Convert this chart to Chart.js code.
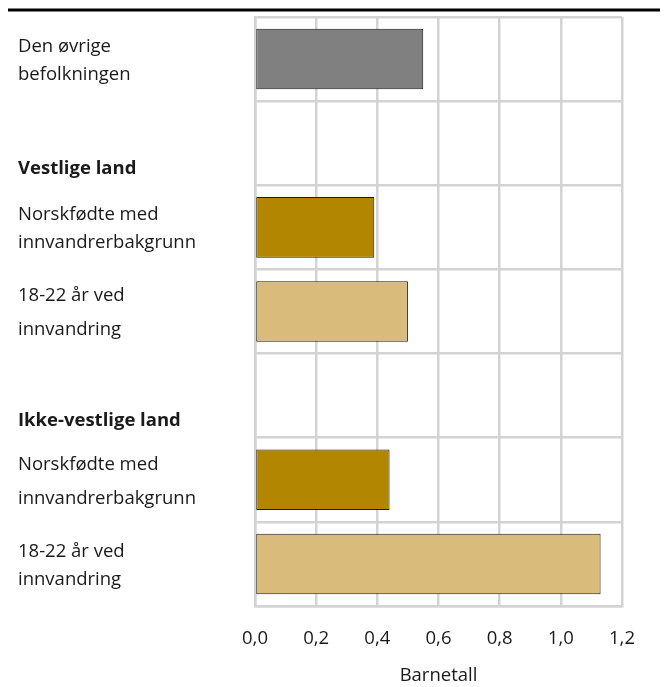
<!DOCTYPE html>
<html>
<head>
<meta charset="utf-8">
<script src="https://cdn.jsdelivr.net/npm/chart.js@4/dist/chart.umd.min.js"></script>
<style>
  html, body { margin: 0; padding: 0; background: #fff; }
  #wrap { width: 668px; height: 687px; }
</style>
</head>
<body>
<div id="wrap"><canvas id="barChart"></canvas></div>
<script>
// Row labels (multi-line), empty strings push the group headers down
const categories = [
  ["Den øvrige", "befolkningen"],
  ["", "", "Vestlige land"],
  ["Norskfødte med", "innvandrerbakgrunn"],
  ["18-22 år ved", "innvandring"],
  ["", "", "Ikke-vestlige land"],
  ["Norskfødte med", "innvandrerbakgrunn"],
  ["18-22 år ved", "innvandring"],
];
const headerRows = [1, 4];
const values = [0.55, null, 0.39, 0.5, null, 0.44, 1.13];
const barColors = ["#808080", null, "#b38600", "#d9bc7c", null, "#b38600", "#d9bc7c"];
const xTicks = [0, 0.2, 0.4, 0.6, 0.8, 1.0, 1.2];
const axisTitle = "Barnetall";

const FONT = "'Open Sans', 'Noto Sans', sans-serif";
const SIZE = 18.5;
// the source is not consistent in line spacing between rows
const wideRows = [3, 5];

// black rule at the top of the figure
const topRule = {
  id: "topRule",
  afterDraw(chart) {
    const ctx = chart.ctx;
    ctx.save();
    ctx.strokeStyle = "#000";
    ctx.lineWidth = 3;
    ctx.beginPath();
    ctx.moveTo(8, 10);
    ctx.lineTo(660, 10);
    ctx.stroke();
    ctx.restore();
  },
};

const ctx = document.getElementById("barChart").getContext("2d");
new Chart(ctx, {
  type: "bar",
  data: {
    labels: categories,
    datasets: [
      {
        data: values,
        backgroundColor: barColors,
        borderColor: "#1a1a1a",
        borderWidth: 1,
        borderSkipped: false,
        barPercentage: 0.72,
        categoryPercentage: 1.0,
      },
    ],
  },
  options: {
    indexAxis: "y",
    responsive: true,
    maintainAspectRatio: false,
    animation: false,
    layout: { padding: { left: 18, right: 46, top: 17, bottom: 0 } },
    plugins: {
      legend: { display: false },
      tooltip: { enabled: false },
    },
    scales: {
      y: {
        grid: { color: "#d3d3d3", lineWidth: 2.5, drawTicks: false, offset: true },
        border: { color: "#d3d3d3", width: 2.5 },
        ticks: {
          crossAlign: "far",
          color: "#1a1a1a",
          padding: 0,
          labelOffset: 1.5,
          font: (c) => {
            if (headerRows.includes(c.index)) {
              return { family: FONT, size: SIZE, weight: "bold", lineHeight: "24px" };
            }
            const lh = wideRows.includes(c.index) ? "34px" : "28px";
            return { family: FONT, size: SIZE, lineHeight: lh };
          },
        },
        afterFit(scale) {
          scale.width = 237;
          scale.paddingTop = 0;
          scale.paddingBottom = 0;
        },
      },
      x: {
        min: 0,
        max: 1.2,
        afterBuildTicks(scale) {
          scale.ticks = xTicks.map((v) => ({ value: v }));
        },
        grid: { color: "#d3d3d3", lineWidth: 2.5, drawTicks: false },
        border: { color: "#d3d3d3", width: 2.5 },
        ticks: {
          color: "#1a1a1a",
          padding: 22,
          font: { family: FONT, size: SIZE },
          callback: (v) => v.toFixed(1).replace(".", ","),
        },
        title: {
          display: true,
          text: axisTitle,
          color: "#1a1a1a",
          font: { family: FONT, size: SIZE },
          padding: { top: 4, bottom: 0 },
        },
        afterFit(scale) {
          scale.height = 81;
          scale.paddingLeft = 0;
          scale.paddingRight = 0;
        },
      },
    },
  },
  plugins: [topRule],
});
</script>
</body>
</html>
